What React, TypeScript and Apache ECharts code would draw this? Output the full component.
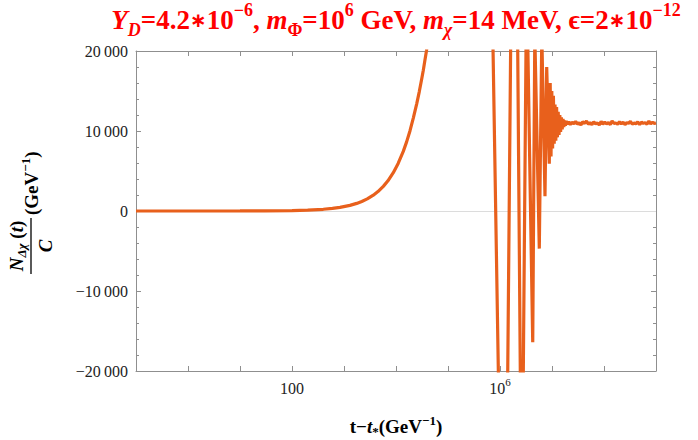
import React, { useEffect, useRef } from 'react';
import * as echarts from 'echarts';

// ---- data (t - t*, N/C) ----
const riseT = [0.1, 0.3, 1, 3, 10, 30, 100, 200, 400, 600, 838, 1300, 1755, 2200, 2800, 3660, 4500, 5700, 7000, 8870, 11000, 13800, 16000, 18600, 21500, 25000, 28000, 31200, 33500, 36100, 38500, 41200, 70000, 170000, 412000];
const riseN = [0, 0, 1, 2, 6, 17, 55, 110, 215, 325, 450, 700, 950, 1190, 1510, 1980, 2430, 3080, 3780, 4790, 5940, 7450, 8640, 10040, 11610, 13400, 14900, 16500, 17600, 18900, 20000, 21400, 30000, 35000, 32000];

const burstT = [7.27e5, 9.4e5, 1.4e6, 1.61e6, 2.18e6, 2.47e6, 2.79e6, 3.18e6, 3.4e6, 4.26e6, 4.67e6, 5.7e6, 6.37e6, 7.33e6, 7.91e6, 8.87e6];
const burstN = [22000, -22000, -22000, 22000, 22000, -22000, -22000, 22000, 22000, -16400, 22000, -4700, 22000, 1840, 18000, 5900];

const ringT = [9.23e6, 9.57e6, 9.91e6, 1.027e7, 1.064e7, 1.102e7, 1.142e7, 1.183e7, 1.225e7, 1.27e7, 1.315e7, 1.364e7, 1.413e7, 1.463e7, 1.516e7, 1.571e7, 1.628e7, 1.686e7, 1.747e7, 1.81e7, 1.876e7];
const ringN = [16000, 6800, 15000, 7800, 14400, 8400, 13300, 8800, 13000, 9200, 12400, 9500, 12000, 9900, 11700, 10200, 11500, 10500, 11300, 10650, 11250];

const plateauT = [1.95e7, 2.1e7, 2.25e7, 2.45e7, 2.65e7, 2.85e7, 3.1e7, 3.35e7, 3.6e7, 3.9e7, 4.25e7, 4.6e7, 5e7, 5.4e7, 5.85e7, 6.35e7, 6.9e7, 7.5e7, 8.1e7, 8.8e7, 9.5e7, 1.03e8, 1.12e8, 1.22e8, 1.32e8, 1.43e8, 1.55e8, 1.68e8, 1.83e8, 1.98e8, 2.15e8, 2.33e8, 2.53e8, 2.74e8, 2.97e8, 3.22e8, 3.5e8, 3.8e8, 4.1e8, 4.45e8, 4.85e8, 5.25e8, 5.7e8, 6.2e8, 6.7e8, 7.3e8, 7.9e8, 8.6e8, 9.3e8, 1e9];
const plateauN = [10850, 11150, 10800, 11100, 10900, 11200, 10850, 11050, 10750, 11150, 10950, 11250, 10850, 11050, 10800, 11150, 10900, 11000, 10750, 11200, 10850, 11100, 10900, 11050, 10800, 11250, 10950, 11000, 10850, 11150, 10900, 11100, 10800, 11050, 10950, 11200, 10850, 11000, 10900, 11150, 10800, 11100, 10950, 11050, 10850, 11250, 10900, 11100, 10950, 11000];

// ---- axis ticks / labels ----
const xMin = 0.1;
const xMax = 1e9;
const xLabelExponents = [2, 6];
const xLabelTexts = ['{n|100}', '{n|10}{sup|6}'];
const yTicks = [-20000, -10000, 0, 10000, 20000];
const yTickLabels = ['\u221220\u2009000', '\u221210\u2009000', '0', '10\u2009000', '20\u2009000'];

const FAMILY = '"Liberation Serif", "Times New Roman", Times, serif';
const RED = '#ff0000';
const ORANGE = '#e8601c';
const FRAME = '#8f8f8f';

const f = (spec: string, size: number) => `${spec} ${size}px ${FAMILY}`;

function rs(font: string, fill: string, lineHeight: number, va?: string) {
  const o: any = { font, fill, lineHeight };
  if (va) o.verticalAlign = va;
  return o;
}

export default function App() {
  const ref = useRef<HTMLDivElement>(null);
  useEffect(() => {
    const chart = echarts.init(ref.current!, null, { renderer: 'svg' });
    const tAll = [...riseT, ...burstT, ...ringT, ...plateauT];
    const nAll = [...riseN, ...burstN, ...ringN, ...plateauN];
    const data = tAll.map((t, i) => [t, nAll[i]]);

    const xLabelFmt = (v: number) => {
      const e = Math.round(Math.log10(v));
      const k = xLabelExponents.indexOf(e);
      return k >= 0 ? xLabelTexts[k] : '';
    };
    const yLabelFmt = (v: number) => {
      const k = yTicks.indexOf(Math.round(v));
      return k >= 0 ? yTickLabels[k] : '';
    };

    const xAxisBase: any = {
      type: 'log',
      logBase: 10,
      min: xMin,
      max: xMax,
      splitNumber: 10,
      axisLine: { show: true, onZero: false, lineStyle: { color: FRAME, width: 1 } },
      axisTick: { show: true, inside: true, length: 5, lineStyle: { color: FRAME } },
      minorTick: { show: false },
      splitLine: { show: false },
    };
    const yAxisBase: any = {
      type: 'value',
      min: -20000,
      max: 20000,
      interval: 10000,
      axisLine: { show: true, onZero: false, lineStyle: { color: FRAME, width: 1 } },
      axisTick: { show: true, inside: true, length: 5, lineStyle: { color: FRAME } },
      minorTick: { show: true, splitNumber: 5, length: 3, lineStyle: { color: FRAME } },
      splitLine: { show: false },
    };

    const titleRich = {
      b: rs(f('bold', 27), RED, 38),
      i: rs(f('italic bold', 27), RED, 38),
      ast: rs(`bold 20px "DejaVu Sans", ${FAMILY}`, RED, 38),
      sub: rs(f('italic bold', 18), RED, 18, 'bottom'),
      subr: rs(f('bold', 18), RED, 18, 'bottom'),
      sup: rs(f('bold', 18), RED, 18, 'top'),
    };
    const axRich = {
      b: rs(f('bold', 19), '#000', 24),
      bi: rs(f('italic bold', 19), '#000', 24),
      sub: rs(f('italic bold', 13), '#000', 13, 'bottom'),
      subb: rs(f('bold', 13), '#000', 13, 'bottom'),
      sup: rs(f('bold', 13), '#000', 13, 'top'),
    };

    const option: any = {
      animation: false,
      backgroundColor: '#ffffff',
      grid: { left: 136, top: 51, width: 520, height: 320 },
      xAxis: [
        {
          ...xAxisBase,
          position: 'bottom',
          axisLabel: {
            show: true,
            interval: 0,
            margin: 5,
            formatter: xLabelFmt,
            rich: {
              n: { fontFamily: FAMILY, fontSize: 16, color: '#222', lineHeight: 24 },
              sup: { fontFamily: FAMILY, fontSize: 11, color: '#222', lineHeight: 11, verticalAlign: 'top' },
            },
          },
        },
        { ...xAxisBase, position: 'top', axisLabel: { show: false } },
      ],
      yAxis: [
        {
          ...yAxisBase,
          position: 'left',
          axisLabel: { show: true, margin: 8, fontFamily: FAMILY, fontSize: 16, color: '#222', formatter: yLabelFmt },
        },
        { ...yAxisBase, position: 'right', axisLabel: { show: false } },
      ],
      series: [
        {
          type: 'line',
          xAxisIndex: 0,
          yAxisIndex: 0,
          data,
          symbol: 'none',
          showSymbol: false,
          clip: true,
          z: 3,
          lineStyle: { color: ORANGE, width: 3.2, join: 'bevel' },
          markLine: {
            silent: true,
            symbol: ['none', 'none'],
            z: 1,
            label: { show: false },
            lineStyle: { color: '#dcdcdc', width: 1, type: 'solid' },
            data: [{ yAxis: 0 }],
          },
        },
      ],
      graphic: [
        {
          type: 'text',
          x: 396,
          y: 1,
          style: {
            text: '{i|Y}{sub|D}{b|=4.2}{ast|\u2217}{b|10}{sup|\u22126}{b|, }{i|m}{subr|\u03A6}{b|=10}{sup|6}{b| GeV, }{i|m}{sub|\u03C7}{b|=14 MeV, \u03F5=2}{ast|\u2217}{b|10}{sup|\u221212}',
            font: f('bold', 27),
            fill: RED,
            align: 'center',
            verticalAlign: 'top',
            rich: titleRich,
          },
        },
        {
          type: 'text',
          x: 396,
          y: 426,
          style: {
            text: '{b|t\u2212}{bi|t}{subb|*}{b|(GeV}{sup|\u22121}{b|)}',
            font: f('bold', 19),
            fill: '#000',
            align: 'center',
            verticalAlign: 'middle',
            rich: axRich,
          },
        },
        {
          type: 'group',
          x: 31,
          y: 246,
          rotation: Math.PI / 2,
          children: [
            { type: 'line', shape: { x1: -28, y1: 0, x2: 28, y2: 0 }, style: { stroke: '#000', lineWidth: 1.3 } },
            {
              type: 'text',
              x: 0,
              y: -3,
              style: {
                text: '{bi|N}{sub|\u0394\u03C7}{b| (}{bi|t}{b|)}',
                font: f('bold', 19),
                fill: '#000',
                align: 'center',
                verticalAlign: 'bottom',
                rich: axRich,
              },
            },
            {
              type: 'text',
              x: 0,
              y: 2,
              style: { text: '{bi|C}', font: f('bold', 19), fill: '#000', align: 'center', verticalAlign: 'top', rich: axRich },
            },
            {
              type: 'text',
              x: 31,
              y: 0,
              style: { text: '{b|(GeV}{sup|\u22121}{b|)}', font: f('bold', 19), fill: '#000', align: 'left', verticalAlign: 'middle', rich: axRich },
            },
          ],
        },
      ],
    };
    chart.setOption(option);
    return () => chart.dispose();
  }, []);
  return (
    <div
      ref={ref}
      style={{ position: 'absolute', left: 0, top: 0, width: 698, height: 440, background: '#fff' }}
    />
  );
}
